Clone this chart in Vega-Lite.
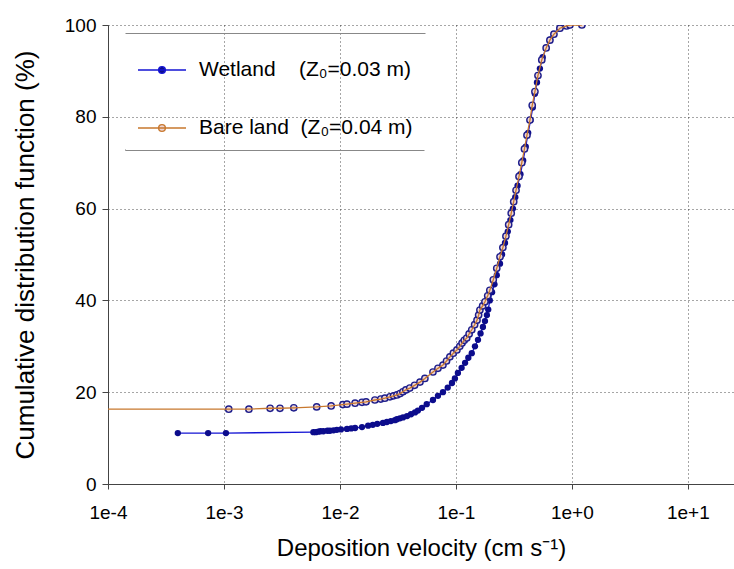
{
  "$schema": "https://vega.github.io/schema/vega-lite/v6.json",
  "width": 626,
  "height": 459,
  "autosize": {"type": "none"},
  "padding": {"left": 108, "top": 25, "right": 0, "bottom": 85},
  "background": "white",
  "config": {
    "font": "Liberation Sans",
    "view": {"stroke": null},
    "axis": {
      "domainColor": "#444444",
      "tickColor": "#444444",
      "gridColor": "#222222",
      "gridDash": [1, 3],
      "gridOpacity": 0.8,
      "labelColor": "#000000",
      "labelFontSize": 19,
      "titleFontSize": 24,
      "titleFontWeight": "normal",
      "titleColor": "#000000"
    }
  },
  "datasets": {
    "cdf": [
      {"series": "Wetland", "v": 0.0004, "p": 11.1},
      {"series": "Wetland", "v": 0.00073, "p": 11.1},
      {"series": "Wetland", "v": 0.00104, "p": 11.1},
      {"series": "Wetland", "v": 0.0059, "p": 11.3},
      {"series": "Wetland", "v": 0.0062, "p": 11.3},
      {"series": "Wetland", "v": 0.0065, "p": 11.4},
      {"series": "Wetland", "v": 0.0068, "p": 11.5},
      {"series": "Wetland", "v": 0.0072, "p": 11.5},
      {"series": "Wetland", "v": 0.0078, "p": 11.6},
      {"series": "Wetland", "v": 0.0082, "p": 11.6},
      {"series": "Wetland", "v": 0.0088, "p": 11.7},
      {"series": "Wetland", "v": 0.0094, "p": 11.8},
      {"series": "Wetland", "v": 0.0102, "p": 11.9},
      {"series": "Wetland", "v": 0.0115, "p": 12.0},
      {"series": "Wetland", "v": 0.0125, "p": 12.1},
      {"series": "Wetland", "v": 0.0135, "p": 12.2},
      {"series": "Wetland", "v": 0.0155, "p": 12.4},
      {"series": "Wetland", "v": 0.0175, "p": 12.7},
      {"series": "Wetland", "v": 0.0192, "p": 12.9},
      {"series": "Wetland", "v": 0.021, "p": 13.1},
      {"series": "Wetland", "v": 0.0235, "p": 13.3},
      {"series": "Wetland", "v": 0.0254, "p": 13.5},
      {"series": "Wetland", "v": 0.0275, "p": 13.7},
      {"series": "Wetland", "v": 0.0298, "p": 13.9},
      {"series": "Wetland", "v": 0.031, "p": 14.1},
      {"series": "Wetland", "v": 0.0329, "p": 14.3},
      {"series": "Wetland", "v": 0.035, "p": 14.5},
      {"series": "Wetland", "v": 0.0379, "p": 14.8},
      {"series": "Wetland", "v": 0.041, "p": 15.2},
      {"series": "Wetland", "v": 0.0444, "p": 15.6},
      {"series": "Wetland", "v": 0.047, "p": 16.0},
      {"series": "Wetland", "v": 0.051, "p": 16.6},
      {"series": "Wetland", "v": 0.056, "p": 17.4},
      {"series": "Wetland", "v": 0.0634, "p": 18.3},
      {"series": "Wetland", "v": 0.07, "p": 19.2},
      {"series": "Wetland", "v": 0.0773, "p": 20.0},
      {"series": "Wetland", "v": 0.085, "p": 21.0},
      {"series": "Wetland", "v": 0.0925, "p": 22.0},
      {"series": "Wetland", "v": 0.098, "p": 23.0},
      {"series": "Wetland", "v": 0.104, "p": 24.2},
      {"series": "Wetland", "v": 0.112, "p": 25.3},
      {"series": "Wetland", "v": 0.12, "p": 26.4},
      {"series": "Wetland", "v": 0.128, "p": 27.5},
      {"series": "Wetland", "v": 0.137, "p": 28.5},
      {"series": "Wetland", "v": 0.146, "p": 30.0},
      {"series": "Wetland", "v": 0.155, "p": 31.4},
      {"series": "Wetland", "v": 0.163, "p": 32.8},
      {"series": "Wetland", "v": 0.171, "p": 34.2},
      {"series": "Wetland", "v": 0.178, "p": 35.5},
      {"series": "Wetland", "v": 0.185, "p": 36.8},
      {"series": "Wetland", "v": 0.19, "p": 38.0},
      {"series": "Wetland", "v": 0.196, "p": 40.0},
      {"series": "Wetland", "v": 0.205, "p": 41.8},
      {"series": "Wetland", "v": 0.215, "p": 43.5},
      {"series": "Wetland", "v": 0.225, "p": 45.5},
      {"series": "Wetland", "v": 0.24, "p": 48.0},
      {"series": "Wetland", "v": 0.25, "p": 50.0},
      {"series": "Wetland", "v": 0.265, "p": 52.5},
      {"series": "Wetland", "v": 0.28, "p": 55.0},
      {"series": "Wetland", "v": 0.295, "p": 57.5},
      {"series": "Wetland", "v": 0.31, "p": 60.0},
      {"series": "Wetland", "v": 0.325, "p": 62.5},
      {"series": "Wetland", "v": 0.34, "p": 65.0},
      {"series": "Wetland", "v": 0.36, "p": 67.5},
      {"series": "Wetland", "v": 0.38, "p": 70.5},
      {"series": "Wetland", "v": 0.4, "p": 73.5},
      {"series": "Wetland", "v": 0.42, "p": 76.5},
      {"series": "Wetland", "v": 0.44, "p": 79.3},
      {"series": "Wetland", "v": 0.46, "p": 82.0},
      {"series": "Wetland", "v": 0.48, "p": 85.0},
      {"series": "Wetland", "v": 0.5, "p": 87.5},
      {"series": "Wetland", "v": 0.53, "p": 90.5},
      {"series": "Wetland", "v": 0.56, "p": 93.0},
      {"series": "Wetland", "v": 0.6, "p": 95.0},
      {"series": "Wetland", "v": 0.65, "p": 96.8},
      {"series": "Wetland", "v": 0.7, "p": 98.0},
      {"series": "Wetland", "v": 0.78, "p": 99.2},
      {"series": "Wetland", "v": 0.88, "p": 99.8},
      {"series": "Wetland", "v": 0.96, "p": 100},
      {"series": "Bare land", "v": 0.00005, "p": 16.3},
      {"series": "Bare land", "v": 0.0011, "p": 16.3},
      {"series": "Bare land", "v": 0.00164, "p": 16.3},
      {"series": "Bare land", "v": 0.0025, "p": 16.5},
      {"series": "Bare land", "v": 0.00304, "p": 16.5},
      {"series": "Bare land", "v": 0.004, "p": 16.6},
      {"series": "Bare land", "v": 0.0063, "p": 16.8},
      {"series": "Bare land", "v": 0.0084, "p": 17.0},
      {"series": "Bare land", "v": 0.0106, "p": 17.3},
      {"series": "Bare land", "v": 0.0115, "p": 17.4},
      {"series": "Bare land", "v": 0.0135, "p": 17.6},
      {"series": "Bare land", "v": 0.0155, "p": 17.8},
      {"series": "Bare land", "v": 0.0168, "p": 17.9},
      {"series": "Bare land", "v": 0.02, "p": 18.3},
      {"series": "Bare land", "v": 0.0225, "p": 18.5},
      {"series": "Bare land", "v": 0.0244, "p": 18.7},
      {"series": "Bare land", "v": 0.027, "p": 19.0},
      {"series": "Bare land", "v": 0.029, "p": 19.2},
      {"series": "Bare land", "v": 0.031, "p": 19.4},
      {"series": "Bare land", "v": 0.033, "p": 19.7},
      {"series": "Bare land", "v": 0.0349, "p": 20.1},
      {"series": "Bare land", "v": 0.037, "p": 20.5},
      {"series": "Bare land", "v": 0.04, "p": 20.9},
      {"series": "Bare land", "v": 0.044, "p": 21.5},
      {"series": "Bare land", "v": 0.049, "p": 22.2},
      {"series": "Bare land", "v": 0.054, "p": 23.0},
      {"series": "Bare land", "v": 0.0634, "p": 24.4},
      {"series": "Bare land", "v": 0.07, "p": 25.2},
      {"series": "Bare land", "v": 0.0773, "p": 25.9},
      {"series": "Bare land", "v": 0.083, "p": 26.8},
      {"series": "Bare land", "v": 0.0887, "p": 27.7},
      {"series": "Bare land", "v": 0.095, "p": 28.5},
      {"series": "Bare land", "v": 0.102, "p": 29.2},
      {"series": "Bare land", "v": 0.108, "p": 30.0},
      {"series": "Bare land", "v": 0.113, "p": 30.7},
      {"series": "Bare land", "v": 0.118, "p": 31.3},
      {"series": "Bare land", "v": 0.124, "p": 31.8},
      {"series": "Bare land", "v": 0.13, "p": 32.7},
      {"series": "Bare land", "v": 0.137, "p": 33.6},
      {"series": "Bare land", "v": 0.145, "p": 34.7},
      {"series": "Bare land", "v": 0.152, "p": 35.7},
      {"series": "Bare land", "v": 0.157, "p": 36.8},
      {"series": "Bare land", "v": 0.161, "p": 37.9},
      {"series": "Bare land", "v": 0.17, "p": 38.8},
      {"series": "Bare land", "v": 0.178, "p": 39.7},
      {"series": "Bare land", "v": 0.188, "p": 41.0},
      {"series": "Bare land", "v": 0.196, "p": 42.2},
      {"series": "Bare land", "v": 0.21, "p": 44.5},
      {"series": "Bare land", "v": 0.225, "p": 47.0},
      {"series": "Bare land", "v": 0.24, "p": 49.5},
      {"series": "Bare land", "v": 0.254, "p": 51.5},
      {"series": "Bare land", "v": 0.27, "p": 54.0},
      {"series": "Bare land", "v": 0.285, "p": 56.5},
      {"series": "Bare land", "v": 0.3, "p": 59.0},
      {"series": "Bare land", "v": 0.315, "p": 61.5},
      {"series": "Bare land", "v": 0.33, "p": 64.0},
      {"series": "Bare land", "v": 0.35, "p": 67.0},
      {"series": "Bare land", "v": 0.37, "p": 70.0},
      {"series": "Bare land", "v": 0.39, "p": 73.0},
      {"series": "Bare land", "v": 0.41, "p": 76.0},
      {"series": "Bare land", "v": 0.435, "p": 79.3},
      {"series": "Bare land", "v": 0.455, "p": 82.5},
      {"series": "Bare land", "v": 0.48, "p": 85.5},
      {"series": "Bare land", "v": 0.51, "p": 89.0},
      {"series": "Bare land", "v": 0.55, "p": 92.4},
      {"series": "Bare land", "v": 0.6, "p": 95.0},
      {"series": "Bare land", "v": 0.646, "p": 96.7},
      {"series": "Bare land", "v": 0.7, "p": 98.0},
      {"series": "Bare land", "v": 0.789, "p": 99.3},
      {"series": "Bare land", "v": 0.9, "p": 99.8},
      {"series": "Bare land", "v": 0.962, "p": 100},
      {"series": "Bare land", "v": 1.22, "p": 100}
    ]
  },
  "data": {"name": "cdf"},
  "encoding": {
    "x": {
      "field": "v",
      "type": "quantitative",
      "scale": {"type": "log", "domain": [0.0001, 25], "nice": false},
      "axis": {
        "title": "Deposition velocity (cm s⁻¹)",
        "values": [0.0001, 0.001, 0.01, 0.1, 1, 10],
        "labelExpr": "'1e' + (datum.value >= 1 ? '+' : '') + round(log(datum.value) / LN10)",
        "grid": true,
        "tickSize": 5,
        "labelPadding": 14,
        "titlePadding": 14,
        "labelFlush": false
      }
    },
    "y": {
      "field": "p",
      "type": "quantitative",
      "scale": {"domain": [0, 100], "nice": false},
      "axis": {
        "title": "Cumulative distribution function (%)",
        "titleFontSize": 26,
        "values": [0, 20, 40, 60, 80, 100],
        "grid": true,
        "tickSize": 6,
        "labelPadding": 6,
        "titlePadding": 26
      }
    }
  },
  "layer": [
    {
      "transform": [{"filter": "datum.series === 'Wetland'"}],
      "mark": {"type": "line", "strokeWidth": 1.3, "clip": true},
      "encoding": {
        "stroke": {
          "field": "series",
          "type": "nominal",
          "scale": {"domain": ["Wetland", "Bare land"], "range": ["#1414d4", "#c8782e"]},
          "legend": {
            "orient": "none",
            "legendX": 17,
            "legendY": 8,
            "title": null,
            "padding": 12,
            "strokeColor": "#888888",
            "symbolType": "M-1,0H1M-0.14,0A0.14,0.14,0,1,0,0.14,0A0.14,0.14,0,1,0,-0.14,0Z",
            "symbolSize": 2304,
            "symbolStrokeWidth": 1.4,
            "labelFontSize": 21,
            "labelLimit": 0,
            "labelColor": "#000000",
            "labelOffset": 12,
            "rowPadding": 23,
            "labelExpr": "datum.value === 'Wetland' ? 'Wetland\u00a0\u00a0\u00a0\u00a0(Z₀=0.03 m)' : 'Bare land\u00a0\u00a0(Z₀=0.04 m)'",
            "encode": {
              "legend": {
                "update": {
                  "strokeDash": {"value": [300, 118, 300, 118]}
                }
              },
              "symbols": {
                "update": {
                  "fill": {"signal": "datum.value === 'Wetland' ? '#0c0c8c' : '#ecd4d4'"}
                }
              }
            }
          }
        }
      }
    },
    {
      "transform": [{"filter": "datum.series === 'Wetland'"}],
      "mark": {"type": "point", "filled": true, "size": 40, "color": "#0c0c8c", "opacity": 1, "clip": true}
    },
    {
      "transform": [{"filter": "datum.series === 'Bare land'"}],
      "mark": {"type": "point", "filled": true, "size": 40, "fill": "#ecd4d4", "stroke": "#1e1e8c", "strokeWidth": 1.4, "opacity": 1, "clip": true}
    },
    {
      "transform": [{"filter": "datum.series === 'Bare land'"}],
      "mark": {"type": "line", "strokeWidth": 1.3, "clip": true},
      "encoding": {
        "stroke": {"field": "series", "type": "nominal"}
      }
    }
  ]
}
